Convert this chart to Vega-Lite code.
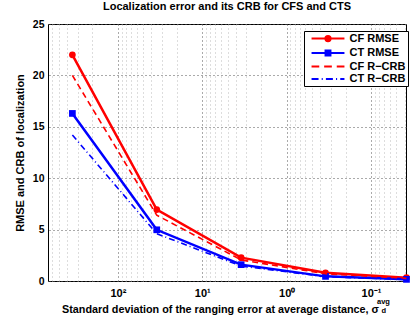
{
  "$schema": "https://vega.github.io/schema/vega-lite/v6.json",
  "width": 358,
  "height": 257,
  "autosize": "none",
  "padding": {"left": 48, "top": 24, "right": 7, "bottom": 41},
  "background": "white",
  "title": {
    "text": "Localization error and its CRB for CFS and CTS",
    "font": "Liberation Sans",
    "fontSize": 11,
    "fontWeight": "bold",
    "color": "black",
    "offset": 7
  },
  "config": {
    "font": "Liberation Sans",
    "view": {"stroke": "black", "strokeWidth": 1},
    "axis": {
      "labelFont": "Liberation Sans",
      "labelFontWeight": "bold",
      "labelColor": "black",
      "labelFontSize": 10.5,
      "titleFont": "Liberation Sans",
      "titleFontWeight": "bold",
      "titleColor": "black",
      "titleFontSize": 10.8,
      "domain": false,
      "ticks": false
    },
    "legend": {
      "title": null,
      "orient": "none",
      "legendX": 256,
      "legendY": 7,
      "strokeColor": "black",
      "fillColor": "white",
      "padding": 2,
      "labelFont": "Liberation Sans",
      "labelFontSize": 11,
      "labelFontWeight": "bold",
      "labelColor": "black",
      "symbolOffset": 16.5,
      "labelOffset": 16,
      "symbolStrokeWidth": 2,
      "symbolSize": 49,
      "rowPadding": 0.5,
      "labelLimit": 0
    }
  },
  "datasets": {
    "curves": [
      {"sigma": 346, "series": "CF RMSE", "value": 22.0},
      {"sigma": 34.6, "series": "CF RMSE", "value": 6.95},
      {"sigma": 3.46, "series": "CF RMSE", "value": 2.27},
      {"sigma": 0.346, "series": "CF RMSE", "value": 0.8},
      {"sigma": 0.038, "series": "CF RMSE", "value": 0.32},
      {"sigma": 346, "series": "CT RMSE", "value": 16.3},
      {"sigma": 34.6, "series": "CT RMSE", "value": 4.98},
      {"sigma": 3.46, "series": "CT RMSE", "value": 1.59},
      {"sigma": 0.346, "series": "CT RMSE", "value": 0.45},
      {"sigma": 0.038, "series": "CT RMSE", "value": 0.16},
      {"sigma": 346, "series": "CF R−CRB", "value": 20.0},
      {"sigma": 34.6, "series": "CF R−CRB", "value": 6.4},
      {"sigma": 3.46, "series": "CF R−CRB", "value": 2.05},
      {"sigma": 0.346, "series": "CF R−CRB", "value": 0.7},
      {"sigma": 0.038, "series": "CF R−CRB", "value": 0.26},
      {"sigma": 346, "series": "CT R−CRB", "value": 14.2},
      {"sigma": 34.6, "series": "CT R−CRB", "value": 4.6},
      {"sigma": 3.46, "series": "CT R−CRB", "value": 1.45},
      {"sigma": 0.346, "series": "CT R−CRB", "value": 0.42},
      {"sigma": 0.038, "series": "CT R−CRB", "value": 0.14}
    ],
    "symbolParts": [
      {"part": "avg", "row": "sup"},
      {"part": "d", "row": "sub"}
    ]
  },
  "layer": [
    {
      "data": {"name": "curves"},
      "transform": [{"filter": "indexof(datum.series, 'RMSE') >= 0"}],
      "mark": {"type": "line", "strokeWidth": 2.5},
      "encoding": {
        "x": {
          "field": "sigma",
          "type": "quantitative",
          "scale": {"type": "log", "domain": [0.0385, 673], "reverse": true, "nice": false},
          "axis": {
            "values": [600, 500, 400, 300, 200, 100, 90, 80, 70, 60, 50, 40, 30, 20, 10, 9, 8, 7, 6, 5, 4, 3, 2, 1, 0.9, 0.8, 0.7, 0.6, 0.5, 0.4, 0.3, 0.2, 0.1, 0.09, 0.08, 0.07, 0.06, 0.05, 0.04],
            "labelExpr": "datum.value == 100 ? '10²' : datum.value == 10 ? '10¹' : datum.value == 1 ? '10⁰' : datum.value == 0.1 ? '10⁻¹' : ''",
            "labelOverlap": false,
            "labelFlush": false,
            "labelFontSize": 11,
            "labelPadding": 6,
            "grid": true,
            "gridDash": [1, 3],
            "gridColor": {
              "condition": {"test": "datum.value == 100 || datum.value == 10 || datum.value == 1 || datum.value == 0.1", "value": "#555555"},
              "value": "#bbbbbb"
            },
            "title": "Standard deviation of the ranging error at average distance, σ",
            "titleX": 172,
            "titleAlign": "center",
            "titlePadding": 5
          }
        },
        "y": {
          "field": "value",
          "type": "quantitative",
          "scale": {"domain": [0, 25], "nice": false},
          "axis": {
            "values": [0, 5, 10, 15, 20, 25],
            "grid": true,
            "gridDash": [1, 3],
            "gridColor": "#555555",
            "labelPadding": 4,
            "title": "RMSE and CRB of localization",
            "titleFontSize": 11,
            "titlePadding": 7
          }
        },
        "color": {"field": "series", "type": "nominal", "legend": null,
          "scale": {"domain": ["CT RMSE", "CF RMSE", "CT R−CRB", "CF R−CRB"], "range": ["#0000ff", "#ff0000", "#0000ff", "#ff0000"]}}
      }
    },
    {
      "data": {"name": "curves"},
      "transform": [{"filter": "datum.series == 'CF RMSE'"}],
      "mark": {"type": "point", "shape": "circle", "filled": true, "size": 45, "opacity": 1},
      "encoding": {
        "x": {"field": "sigma", "type": "quantitative"},
        "y": {"field": "value", "type": "quantitative"},
        "color": {"field": "series", "type": "nominal", "legend": null}
      }
    },
    {
      "data": {"name": "curves"},
      "transform": [{"filter": "datum.series == 'CT RMSE'"}],
      "mark": {"type": "point", "shape": "square", "filled": true, "size": 45, "opacity": 1},
      "encoding": {
        "x": {"field": "sigma", "type": "quantitative"},
        "y": {"field": "value", "type": "quantitative"},
        "color": {"field": "series", "type": "nominal", "legend": null}
      }
    },
    {
      "data": {"name": "curves"},
      "transform": [{"filter": "indexof(datum.series, 'CRB') >= 0"}],
      "mark": {"type": "line", "strokeWidth": 1.6},
      "encoding": {
        "x": {"field": "sigma", "type": "quantitative"},
        "y": {"field": "value", "type": "quantitative"},
        "color": {"field": "series", "type": "nominal", "legend": null},
        "strokeDash": {"field": "series", "type": "nominal", "legend": null,
          "scale": {"domain": ["CF R−CRB", "CT R−CRB"], "range": [[6, 4], [6, 3, 1, 3]]}}
      }
    },
    {
      "data": {"name": "symbolParts"},
      "transform": [{"filter": "datum.row == 'sup'"}],
      "mark": {"type": "text", "align": "left", "baseline": "middle", "font": "Liberation Sans", "fontWeight": "bold", "fontSize": 7.5, "dy": 21, "color": "black"},
      "encoding": {
        "x": {"datum": 0.0849, "type": "quantitative"},
        "y": {"datum": 0, "type": "quantitative"},
        "text": {"field": "part", "type": "nominal"}
      }
    },
    {
      "data": {"name": "symbolParts"},
      "transform": [{"filter": "datum.row == 'sub'"}],
      "mark": {"type": "text", "align": "left", "baseline": "middle", "font": "Liberation Sans", "fontWeight": "bold", "fontSize": 7.5, "dy": 30, "dx": 4.5, "color": "black"},
      "encoding": {
        "x": {"datum": 0.0849, "type": "quantitative"},
        "y": {"datum": 0, "type": "quantitative"},
        "text": {"field": "part", "type": "nominal"}
      }
    },
    {
      "data": {"name": "curves"},
      "transform": [{"filter": "datum.value < 0"}],
      "mark": {"type": "point", "filled": true, "size": 49, "strokeWidth": 2, "opacity": 1},
      "encoding": {
        "x": {"field": "sigma", "type": "quantitative"},
        "y": {"field": "value", "type": "quantitative"},
        "fill": {"field": "series", "type": "nominal",
          "scale": {"domain": ["CF RMSE", "CT RMSE", "CF R−CRB", "CT R−CRB"], "range": ["#ff0000", "#0000ff", "#ff0000", "#0000ff"]}},
        "stroke": {"field": "series", "type": "nominal",
          "scale": {"domain": ["CF RMSE", "CT RMSE", "CF R−CRB", "CT R−CRB"], "range": ["#ff0000", "#0000ff", "#ff0000", "#0000ff"]}},
        "shape": {"field": "series", "type": "nominal",
          "scale": {"domain": ["CF RMSE", "CT RMSE", "CF R−CRB", "CT R−CRB"], "range": [
            "M-4.7,0H4.7M0.75,0A0.75,0.75,0,1,1,-0.75,0A0.75,0.75,0,1,1,0.75,0Z",
            "M-4.7,0H4.7M-0.7,-0.7H0.7V0.7H-0.7Z",
            "M-4.7,0H-2.5M-1.1,0H1.1M2.5,0H4.7",
            "M-4.7,0H-2.7M-1.8,0H-1.5M-0.6,0H1.4M2.3,0H2.6M3.5,0H4.7"
          ]}}
      }
    }
  ]
}
